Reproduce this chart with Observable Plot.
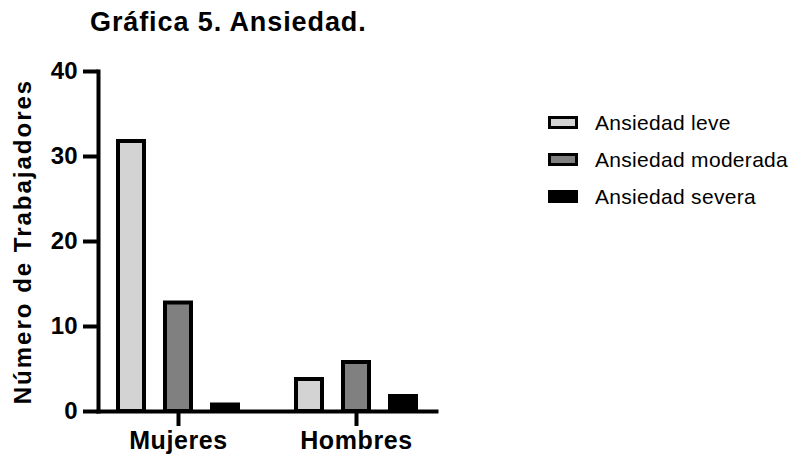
<!DOCTYPE html>
<html><head><meta charset="utf-8">
<script src="https://cdn.jsdelivr.net/npm/d3@7"></script>
<script src="https://cdn.jsdelivr.net/npm/@observablehq/plot@0.6"></script>
<style>
body{margin:0;background:#fff;font-family:"Liberation Sans",Arial,sans-serif;}
#wrap{position:relative;width:804px;height:465px;overflow:hidden;}
#title{height:50px;position:relative;}
#title span{position:absolute;left:90px;top:9px;font-size:27px;font-weight:bold;line-height:1;letter-spacing:0.9px;}
#legend{position:absolute;left:548px;top:104px;}
.row{display:flex;align-items:center;height:37px;font-size:21px;letter-spacing:0.3px;}
.sw{width:30px;height:13px;box-sizing:border-box;border:3px solid #000;margin-right:17px;}
#chart g[aria-label="y-axis label"] text{letter-spacing:2px;}
#chart g[aria-label="fx-axis tick label"] text{letter-spacing:0.6px;}
</style></head><body>
<div id="wrap"><div id="title"><span></span></div><div id="chart"></div><div id="legend"></div></div>
<script>
const titleText = "Gráfica 5. Ansiedad.";
const groups = ["Mujeres", "Hombres"];
const levels = ["Ansiedad leve", "Ansiedad moderada", "Ansiedad severa"];
const mujeres = [32, 13, 1];
const hombres = [4, 6, 2];
const colors = ["#d3d3d3", "#808080", "#000000"];
const yTicks = [0, 10, 20, 30, 40];
const yLabel = "Número de Trabajadores";

document.querySelector("#title span").textContent = titleText;

const series = [mujeres, hombres];
const data = groups.flatMap((g, i) => levels.map((l, j) => ({group: g, level: l, value: series[i][j]})));

const plot = Plot.plot({
  width: 804, height: 415,
  marginTop: 21, marginBottom: 54, marginLeft: 97, marginRight: 367,
  style: {fontFamily: "Liberation Sans, Arial, sans-serif", background: "white", color: "black"},
  fx: {domain: groups, paddingInner: 0.1, paddingOuter: 0},
  x: {domain: levels, paddingInner: 0.354, paddingOuter: 0.35, axis: null},
  y: {domain: [0, 40]},
  color: {domain: levels, range: colors},
  marks: [
    Plot.barY(data, {fx: "group", x: "level", y: "value", fill: "level", stroke: "#000", strokeWidth: 4, insetTop: 2, insetLeft: 2, insetRight: 2}),
    Plot.frame({anchor: "bottom", facet: "super", strokeWidth: 4}),
    Plot.frame({anchor: "left", facet: "super", strokeWidth: 4}),
    Plot.axisY({ticks: yTicks, tickSize: 15, tickPadding: 6, strokeWidth: 4, fontSize: 24, fontWeight: "bold",
      label: yLabel, labelAnchor: "center", labelOffset: 85, labelArrow: "none"}),
    Plot.axisFx({anchor: "bottom", tickSize: 15, strokeWidth: 4, fontSize: 25, fontWeight: "bold", label: null, tickPadding: 5})
  ]
});
document.getElementById("chart").appendChild(plot);

const legend = document.getElementById("legend");
levels.forEach((l, i) => {
  const row = document.createElement("div");
  row.className = "row";
  const sw = document.createElement("div");
  sw.className = "sw";
  sw.style.background = colors[i];
  const t = document.createElement("span");
  t.textContent = l;
  row.appendChild(sw); row.appendChild(t);
  legend.appendChild(row);
});
</script>
</body></html>
